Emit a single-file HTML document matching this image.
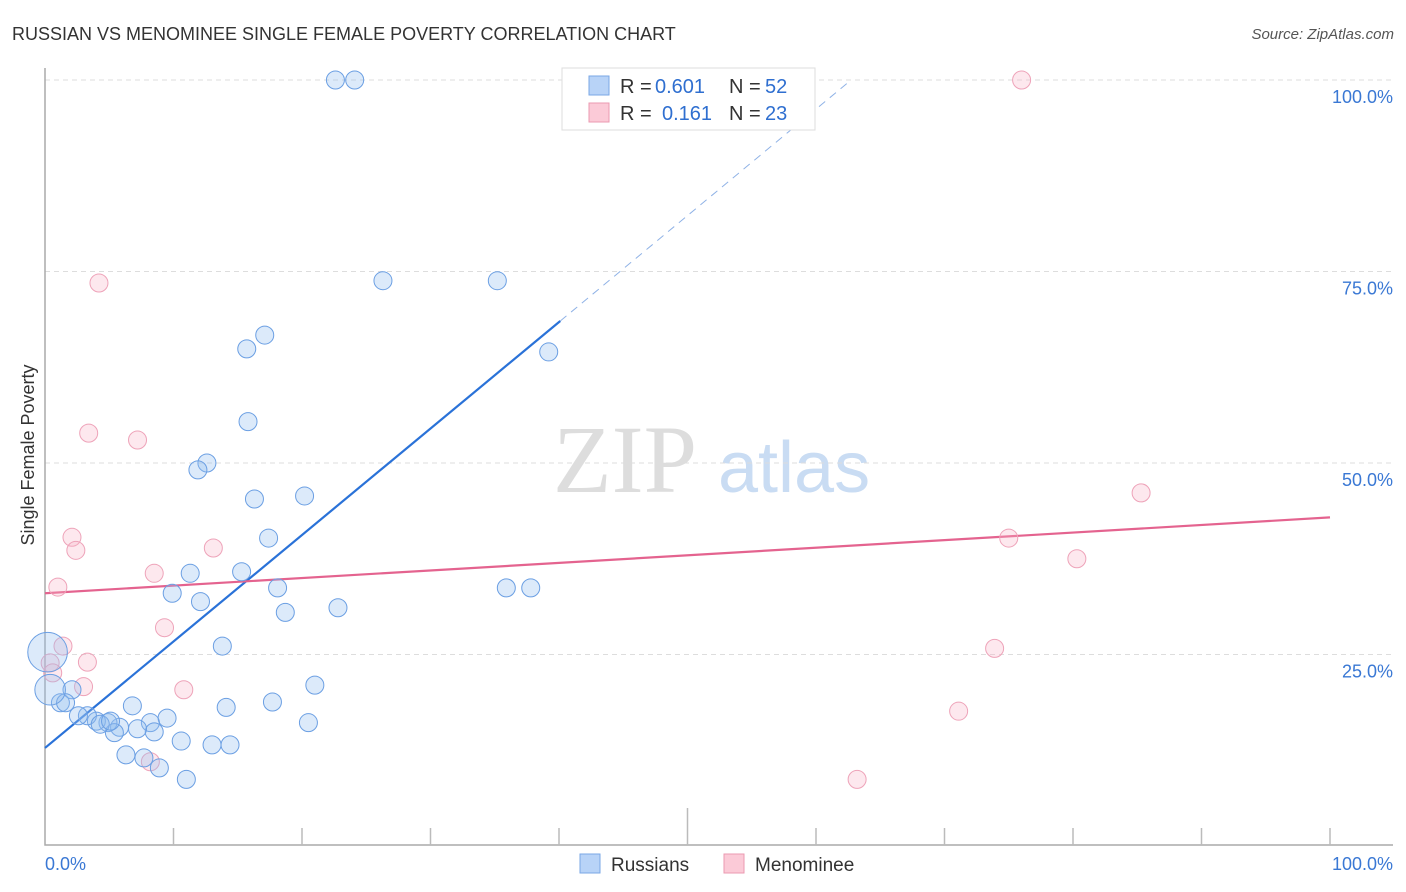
<!DOCTYPE html>
<html><head><meta charset="utf-8"><style>
body{margin:0;background:#fff;font-family:"Liberation Sans",sans-serif;}
svg{display:block}
</style></head><body>
<svg id="chart" width="1406" height="892" xmlns="http://www.w3.org/2000/svg">
<text x="12" y="40" font-size="18" fill="#333">RUSSIAN VS MENOMINEE SINGLE FEMALE POVERTY CORRELATION CHART</text>
<text x="1394" y="39" font-size="15" fill="#555" font-style="italic" text-anchor="end">Source: ZipAtlas.com</text>
<text transform="translate(34,455) rotate(-90)" font-size="18" fill="#333" text-anchor="middle">Single Female Poverty</text>
<g font-size="96">
<text x="553" y="492" fill="#ddd" font-family="Liberation Serif,serif">ZIP</text>
<text x="718" y="492" fill="#c9dcf3" font-size="72">atlas</text>
</g>
<g id="grid"></g>
<g id="axes"></g>
<g id="lines"></g>
<g id="points"></g>
<g>
<rect x="562" y="68" width="253" height="62" fill="#fff" stroke="#ddd"/>
<rect x="589" y="76" width="20" height="19" fill="#b8d3f7" stroke="#7aa7e6"/>
<rect x="589" y="103" width="20" height="19" fill="#fbcad7" stroke="#eb9ab0"/>
<text x="620" y="93" font-size="20" fill="#333">R =</text>
<text x="655" y="93" font-size="20" fill="#2f6fd0">0.601</text>
<text x="729" y="93" font-size="20" fill="#333">N =</text>
<text x="765" y="93" font-size="20" fill="#2f6fd0">52</text>
<text x="620" y="120" font-size="20" fill="#333">R =</text>
<text x="662" y="120" font-size="20" fill="#2f6fd0">0.161</text>
<text x="729" y="120" font-size="20" fill="#333">N =</text>
<text x="765" y="120" font-size="20" fill="#2f6fd0">23</text>
</g>
<g font-size="19" fill="#333">
<rect x="580" y="854" width="20" height="19" fill="#b8d3f7" stroke="#7aa7e6"/>
<text x="611" y="871">Russians</text>
<rect x="724" y="854" width="20" height="19" fill="#fbcad7" stroke="#eb9ab0"/>
<text x="755" y="871">Menominee</text>
</g>
</svg>
<script>
const yTicks=[25,50,75,100];
const yTickLabels=["25.0%","50.0%","75.0%","100.0%"];
const russianX=[22.6,24.1,26.3,35.2,39.2,17.1,15.7,15.8,12.6,11.9,16.3,20.2,17.4,11.3,15.3,9.9,12.1,18.1,18.7,22.8,35.9,37.8,13.8,21.0,6.8,14.1,17.7,20.5,9.5,8.2,8.5,7.2,5.8,4.9,4.0,3.3,2.6,5.4,4.3,2.1,1.2,1.6,10.6,13.0,14.4,6.3,7.7,8.9,11.0,0.2,0.4,5.1];
const russianY=[100,100,73.8,73.8,64.5,66.7,64.9,55.4,50.0,49.1,45.3,45.7,40.2,35.6,35.8,33.0,31.9,33.7,30.5,31.1,33.7,33.7,26.1,21.0,18.3,18.1,18.8,16.1,16.7,16.1,14.9,15.3,15.5,16.1,16.3,17.0,17.0,14.8,15.9,20.4,18.7,18.7,13.7,13.2,13.2,11.9,11.5,10.2,8.7,25.3,20.4,16.3];
const russianSize=[1,1,1,1,1,1,1,1,1,1,1,1,1,1,1,1,1,1,1,1,1,1,1,1,1,1,1,1,1,1,1,1,1,1,1,1,1,1,1,1,1,1,1,1,1,1,1,1,1,2.2,1.7,1];
const menomineeX=[76.0,4.2,3.4,7.2,85.3,2.1,2.4,75.0,80.3,8.5,1.0,13.1,9.3,1.4,3.3,10.8,0.4,0.6,3.0,73.9,71.1,8.2,63.2];
const menomineeY=[100,73.5,53.9,53.0,46.1,40.3,38.6,40.2,37.5,35.6,33.8,38.9,28.5,26.1,24.0,20.4,23.9,22.6,20.8,25.8,17.6,11.0,8.7];
const russianTrend=[12.8,1.39];
const menomineeTrend=[33.0,0.099];
const NS="http://www.w3.org/2000/svg";
const X=v=>45+v*12.85, Y=v=>846-v*7.66;
function mk(tag,attrs,parent){const e=document.createElementNS(NS,tag);for(const k in attrs)e.setAttribute(k,attrs[k]);document.getElementById(parent).appendChild(e);return e;}
yTicks.forEach((t,i)=>{
 const l=mk('line',{x1:45,x2:1393,y1:Y(t),y2:Y(t),stroke:'#ddd','stroke-dasharray':'5,4'},'grid');
 
 
 const tx=mk('text',{x:1393,y:Y(t)+23,'font-size':18,fill:'#3a78d4','text-anchor':'end'},'grid');
 tx.textContent=yTickLabels[i];
 
 
});
const ax=mk('path',{d:'M45,68V845H1393',fill:'none',stroke:'#aaa','stroke-width':1.5},'axes');


for(let i=1;i<=10;i++){const t=mk('line',{x1:X(i*10),x2:X(i*10),y1:i==5?808:828,y2:845,stroke:'#bbb','stroke-width':1.5},'axes');
 
 }
[["0.0%",45,'start'],["100.0%",1393,'end']].forEach(a=>{const t=mk('text',{x:a[1],y:870,'font-size':18,fill:'#3a78d4','text-anchor':a[2]},'axes');t.textContent=a[0];
 
 });
function draw(xs,ys,sz,fill,stroke,name){xs.forEach((x,i)=>{const c=mk('circle',{cx:X(x),cy:Y(ys[i]),r:9*(sz?sz[i]:1),fill:fill,stroke:stroke,'stroke-width':1},'points');
 
 });}
draw(menomineeX,menomineeY,null,'rgba(247,180,200,0.3)','#eea3b9','menominee-point');
draw(russianX,russianY,russianSize,'rgba(150,190,240,0.33)','#6b9fe3','russians-point');
const rEnd=40.1, rFull=(100-russianTrend[0])/russianTrend[1];
const l1=mk('line',{x1:X(0),y1:Y(russianTrend[0]),x2:X(rEnd),y2:Y(russianTrend[0]+russianTrend[1]*rEnd),stroke:'#2a72d8','stroke-width':2.2},'lines');


const l2=mk('line',{x1:X(rEnd),y1:Y(russianTrend[0]+russianTrend[1]*rEnd),x2:X(rFull),y2:Y(100),stroke:'#8fb2e6','stroke-width':1,'stroke-dasharray':'8,6'},'lines');


const l3=mk('line',{x1:X(0),y1:Y(menomineeTrend[0]),x2:X(100),y2:Y(menomineeTrend[0]+menomineeTrend[1]*100),stroke:'#e4638f','stroke-width':2.2},'lines');


</script>
</body></html>
